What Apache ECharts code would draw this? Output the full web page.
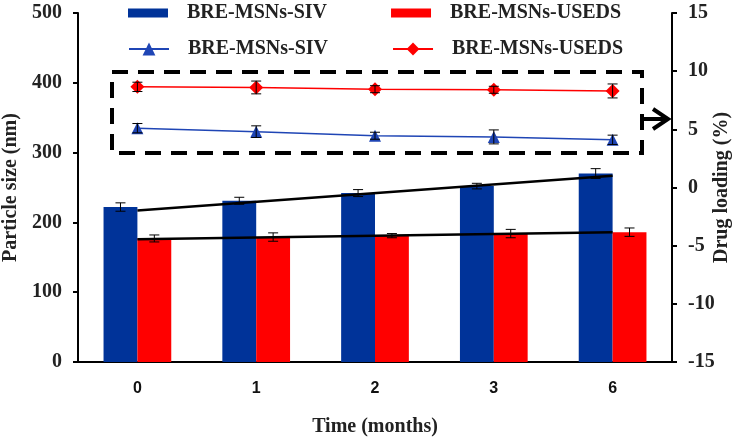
<!DOCTYPE html>
<html>
<head>
<meta charset="utf-8">
<script src="https://cdn.jsdelivr.net/npm/echarts@6/dist/echarts.min.js"></script>
<style>
    html, body {margin: 0; padding: 0; background: #fff;}
    #chart {width: 735px; height: 437px;}
</style>
</head>
<body>
<div id="chart"></div>
<script>
const categories = ['0', '1', '2', '3', '6'];

// particle size (nm), left axis
const sivSize = [222, 231, 242, 252, 270];
const sivSizeErr = [6, 5, 5, 4, 7];
const usedsSize = [177, 179, 181, 184, 186];
const usedsSizeErr = [5, 6, 3, 6, 6];

// drug loading (%), right axis
const sivLoading = [5.1, 4.8, 4.45, 4.35, 4.1];
const sivLoadingErr = [0.4, 0.5, 0.3, 0.6, 0.4];
const usedsLoading = [8.65, 8.6, 8.45, 8.4, 8.3];
const usedsLoadingErr = [0.4, 0.55, 0.3, 0.3, 0.6];

// trend lines drawn over the bars (first and last point)
const sivTrend = [217, null, null, null, 267];
const usedsTrend = [176, null, null, null, 186];

const labels = {
    sivBar: 'BRE-MSNs-SIV',
    usedsBar: 'BRE-MSNs-USEDS',
    sivLine: 'BRE-MSNs-SIV',
    usedsLine: 'BRE-MSNs-USEDS',
};

const serif = 'Liberation Serif, Times New Roman, serif';
const blue = '#003399';
const lineBlue = '#1f45b5';
const red = '#ff0000';
const barGapRatio = 0.43;

const errData = (values, errs) => values.map((v, i) => [i, v, errs[i]]);

const errorBars = (side, cap) => (params, api) => {
    const idx = api.value(0);
    const val = api.value(1);
    const err = api.value(2);
    const band = api.size([1, 0])[0];
    const x = api.coord([idx, val])[0] + side * band * (1 - barGapRatio) / 4;
    const top = api.coord([idx, val + err])[1];
    const bottom = api.coord([idx, val - err])[1];
    const style = {stroke: '#000', lineWidth: 1};
    return {
        type: 'group',
        children: [
            {type: 'line', shape: {x1: x, y1: top, x2: x, y2: bottom}, style},
            {type: 'line', shape: {x1: x - cap, y1: top, x2: x + cap, y2: top}, style},
            {type: 'line', shape: {x1: x - cap, y1: bottom, x2: x + cap, y2: bottom}, style},
        ],
    };
};

const legendBase = {
    left: 128,
    padding: 0,
    itemWidth: 40,
    itemGap: 64,
    formatter: name => labels[name],
    textStyle: {fontFamily: serif, fontWeight: 'bold', fontSize: 20, color: '#222', padding: [0, 0, 0, 14]},
    selectedMode: false,
};

const axisCommon = {
    axisLine: {show: true, lineStyle: {color: '#000', width: 2}},
    axisTick: {show: true, length: 5, lineStyle: {color: '#000', width: 2}},
    splitLine: {show: false},
    nameLocation: 'middle',
    nameRotate: 90,
    nameMoveOverlap: false,
    nameTextStyle: {fontFamily: serif, fontWeight: 'bold', fontSize: 20, color: '#222'},
    axisLabel: {fontFamily: serif, fontWeight: 'bold', fontSize: 20, color: '#222', margin: 16},
};

const chart = echarts.init(document.getElementById('chart'));

chart.setOption({
    animation: false,
    grid: {left: 78, right: 63, top: 13, bottom: 75, containLabel: false, outerBoundsMode: 'none'},
    legend: [
        {...legendBase, top: 3, itemHeight: 9, icon: 'rect', data: ['sivBar', 'usedsBar']},
        {...legendBase, top: 39, itemHeight: 16, data: ['sivLine', 'usedsLine']},
    ],
    xAxis: {
        type: 'category',
        data: categories,
        name: 'Time (months)',
        nameLocation: 'middle',
        nameGap: 55,
        nameTextStyle: {fontFamily: serif, fontWeight: 'bold', fontSize: 20, color: '#222'},
        axisLine: {lineStyle: {color: '#000', width: 2}},
        axisTick: {length: 5, lineStyle: {color: '#000', width: 2}},
        axisLabel: {fontFamily: 'Liberation Sans, Arial, sans-serif', fontWeight: 'bold', fontSize: 16, color: '#111', margin: 19},
    },
    yAxis: [
        {
            ...axisCommon,
            type: 'value',
            min: 0,
            max: 500,
            interval: 100,
            name: 'Particle size (nm)',
            nameGap: 57,
        },
        {
            ...axisCommon,
            type: 'value',
            position: 'right',
            min: -15,
            max: 15,
            interval: 5,
            name: 'Drug loading (%)',
            nameGap: 40,
        },
    ],
    series: [
        {
            name: 'sivBar',
            type: 'bar',
            data: sivSize,
            barGap: 0,
            barCategoryGap: (barGapRatio * 100) + '%',
            itemStyle: {color: blue},
            z: 2,
        },
        {
            name: 'usedsBar',
            type: 'bar',
            data: usedsSize,
            barGap: 0,
            barCategoryGap: (barGapRatio * 100) + '%',
            itemStyle: {color: red},
            z: 2,
        },
        {
            type: 'line',
            data: sivTrend,
            connectNulls: true,
            showSymbol: false,
            symbol: 'none',
            lineStyle: {color: '#000', width: 2.5},
            z: 4,
        },
        {
            type: 'line',
            data: usedsTrend,
            connectNulls: true,
            showSymbol: false,
            symbol: 'none',
            lineStyle: {color: '#000', width: 2.5},
            z: 4,
        },
        {
            type: 'custom',
            data: errData(sivSize, sivSizeErr),
            renderItem: errorBars(-1, 5),
            z: 5,
        },
        {
            type: 'custom',
            data: errData(usedsSize, usedsSizeErr),
            renderItem: errorBars(1, 5),
            z: 5,
        },
        {
            name: 'sivLine',
            type: 'line',
            yAxisIndex: 1,
            data: sivLoading,
            symbol: 'triangle',
            symbolSize: 12,
            itemStyle: {color: lineBlue},
            lineStyle: {color: lineBlue, width: 1.5},
            z: 6,
        },
        {
            name: 'usedsLine',
            type: 'line',
            yAxisIndex: 1,
            data: usedsLoading,
            symbol: 'diamond',
            symbolSize: 14,
            itemStyle: {color: red},
            lineStyle: {color: red, width: 1.5},
            z: 6,
        },
        {
            type: 'custom',
            yAxisIndex: 1,
            data: errData(sivLoading, sivLoadingErr),
            renderItem: errorBars(0, 5),
            z: 7,
        },
        {
            type: 'custom',
            yAxisIndex: 1,
            data: errData(usedsLoading, usedsLoadingErr),
            renderItem: errorBars(0, 5),
            z: 7,
        },
    ],
    graphic: [
        {
            type: 'rect',
            shape: {x: 112, y: 72, width: 530, height: 81},
            style: {fill: 'none', stroke: '#000', lineWidth: 4, lineDash: [16, 10]},
            z: 10,
        },
        {
            type: 'line',
            shape: {x1: 644, y1: 119, x2: 668, y2: 119},
            style: {stroke: '#000', lineWidth: 4},
            z: 10,
        },
        {
            type: 'polyline',
            shape: {points: [[653, 109], [668, 119], [653, 129]]},
            style: {fill: 'none', stroke: '#000', lineWidth: 4},
            z: 10,
        },
    ],
});
</script>
</body>
</html>
